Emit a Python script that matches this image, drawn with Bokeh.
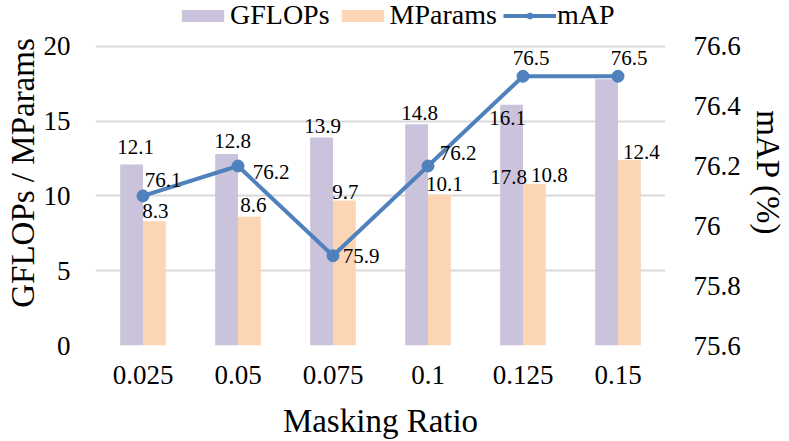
from bokeh.plotting import figure
from bokeh.models import (ColumnDataSource, Range1d, LinearAxis, FixedTicker,
                          CustomJSTickFormatter, Legend, LegendItem, FactorRange)
from bokeh.transform import dodge
from bokeh.core.properties import value
from bokeh.embed import file_html
from bokeh.resources import INLINE

# ---- data ----
ratios = ["0.025", "0.05", "0.075", "0.1", "0.125", "0.15"]
gflops = [12.1, 12.8, 13.9, 14.8, 16.1, 17.8]
mparams = [8.3, 8.6, 9.7, 10.1, 10.8, 12.4]
map_vals = [76.1, 76.2, 75.9, 76.2, 76.5, 76.5]
left_ticks = [0, 5, 10, 15, 20]
right_ticks = [75.6, 75.8, 76.0, 76.2, 76.4, 76.6]
left_lim = (0, 20)
right_lim = (75.6, 76.6)

# ---- label offsets (pixels, screen; +y is down) ----
g_dx = [4, 6, 1, 3, -4, -98]
g_dy = [-18, -13, -12, -11, 13, 98]
m_dx = [1, 4, 1, 5, 15, 12]
m_dy = [-10, -12, -8, -10, -9, -8]
a_dx = [20, 33, 28, 30, 8, 11]
a_dy = [-16, 6, 0, -13, -18, -18]

FONT = "'Liberation Serif', 'Times New Roman', serif"
LAV = "#CBC2DB"
PEACH = "#FCD5B4"
BLUE = "#4F81BD"
GRID = "#D9D9D9"

# layout: plotted area is 300 px tall; the legend strip (46 px) lives
# inside the frame above the top gridline
PLOT_H = 300
STRIP = 46
ext = (PLOT_H + STRIP) / PLOT_H
y_top = left_lim[0] + (left_lim[1] - left_lim[0]) * ext
y2_top = right_lim[0] + (right_lim[1] - right_lim[0]) * ext

src = ColumnDataSource(dict(
    x=ratios, g=gflops, m=mparams, a=map_vals,
    gl=[f"{v:.1f}" for v in gflops], ml=[f"{v:.1f}" for v in mparams],
    al=[f"{v:.1f}" for v in map_vals],
    gdx=g_dx, gdy=g_dy, mdx=m_dx, mdy=m_dy, adx=a_dx, ady=a_dy,
))

p = figure(x_range=FactorRange(*ratios), y_range=Range1d(left_lim[0], y_top),
           width=789, height=441, output_backend="svg", toolbar_location=None,
           min_border_left=95, min_border_right=124, min_border_top=0,
           min_border_bottom=95)
p.extra_y_ranges = {"map": Range1d(right_lim[0], y2_top)}
p.outline_line_color = None
p.background_fill_color = "white"
p.border_fill_color = "white"

# grid
p.xgrid.grid_line_color = None
p.ygrid.grid_line_color = GRID
p.ygrid.grid_line_width = 2
p.ygrid.ticker = FixedTicker(ticks=left_ticks)

# bars
rg = p.vbar(x=dodge("x", -0.12, range=p.x_range), top="g", width=0.24,
            source=src, fill_color=LAV, line_color=None)
rm = p.vbar(x=dodge("x", 0.12, range=p.x_range), top="m", width=0.24,
            source=src, fill_color=PEACH, line_color=None)

# line
rl = p.line(x="x", y="a", source=src, y_range_name="map", line_color=BLUE,
            line_width=4)
rc = p.scatter(x="x", y="a", source=src, y_range_name="map", size=12,
               fill_color=BLUE, line_color=BLUE)

# data labels
common = dict(source=src, text_font=value(FONT), text_font_size="21px",
              text_color="black", text_align="center", text_baseline="middle")
p.text(x=dodge("x", -0.12, range=p.x_range), y="g", text="gl",
       x_offset="gdx", y_offset="gdy", **common)
p.text(x=dodge("x", 0.12, range=p.x_range), y="m", text="ml",
       x_offset="mdx", y_offset="mdy", **common)
p.text(x="x", y="a", text="al", y_range_name="map",
       x_offset="adx", y_offset="ady", **common)

# axes
def style_axis(ax):
    ax.axis_line_color = None
    ax.major_tick_line_color = None
    ax.minor_tick_line_color = None
    ax.major_tick_out = 0
    ax.major_tick_in = 0
    ax.major_label_text_font = FONT
    ax.major_label_text_font_size = "27px"
    ax.major_label_text_color = "black"
    ax.axis_label_text_font = FONT
    ax.axis_label_text_font_size = "33px"
    ax.axis_label_text_font_style = "normal"
    ax.axis_label_text_color = "black"

xa = p.xaxis[0]
style_axis(xa)
xa.axis_label = "Masking Ratio"
xa.major_label_standoff = 20
xa.axis_label_standoff = 16

ya = p.yaxis[0]
style_axis(ya)
ya.ticker = FixedTicker(ticks=left_ticks)
ya.axis_label = "GFLOPs / MParams"
ya.major_label_standoff = 25
ya.axis_label_standoff = 0

ra = LinearAxis(y_range_name="map", ticker=FixedTicker(ticks=right_ticks),
                formatter=CustomJSTickFormatter(
                    code="return tick.toFixed(1).replace(/\\.0$/, '');"))
style_axis(ra)
ra.axis_label = "mAP (%)"
ra.axis_label_orientation = "vertical"
ra.major_label_standoff = 28
ra.axis_label_standoff = 6
p.add_layout(ra, "right")

# legend
legend = Legend(items=[
    LegendItem(label="GFLOPs", renderers=[rg]),
    LegendItem(label="MParams", renderers=[rm]),
    LegendItem(label="mAP", renderers=[rl, rc]),
], location=(81, 314), orientation="horizontal")
legend.label_text_font = FONT
legend.label_text_font_size = "28px"
legend.label_text_color = "black"
legend.glyph_width = 53
legend.glyph_height = 15
legend.label_standoff = 1
legend.spacing = 6
legend.padding = 0
legend.margin = 0
legend.border_line_color = None
legend.background_fill_alpha = 0
p.add_layout(legend, "center")

open("out.html", "w").write(file_html(p, INLINE))
